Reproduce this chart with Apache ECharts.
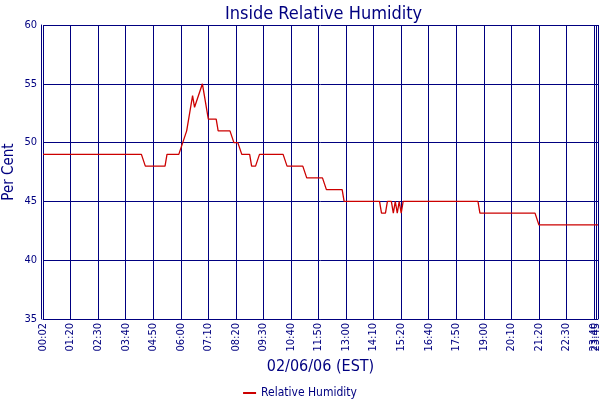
<!DOCTYPE html>
<html>
<head>
<meta charset="utf-8">
<script src="https://cdn.jsdelivr.net/npm/echarts@6/dist/echarts.min.js"></script>
<style>
html,body{margin:0;padding:0;background:#fff;}
#chart{width:600px;height:400px;}
</style>
</head>
<body>
<div id="chart"></div>
<script>
// Tick labels (one every 14 samples, plus the final two samples)
var tickLabels = ['00:02','01:20','02:30','03:40','04:50','06:00','07:10','08:20','09:30','10:40',
  '11:50','13:00','14:10','15:20','16:40','17:50','19:00','20:10','21:20','22:30','23:40'];
var endLabels = ['23:45','23:49'];
var samplesPerTick = 14;

// Relative humidity readings (%)
var humidity = [
  49,49,49,49,49,49,49,49,49,49,49,49,49,49,
  49,49,49,49,49,49,49,49,49,49,49,49,49,49,
  49,49,49,49,49,49,49,49,49,49,49,49,49,49,
  49,49,49,49,49,49,49,49,49,49,48,48,48,48,
  48,48,48,48,48,48,48,49,49,49,49,49,49,49,
  49,50,50,51,52,53,54,53,53,54,54,55,54,54,
  52,52,52,52,52,51,51,51,51,51,51,51,51,50,
  50,50,50,49,49,49,49,49,48,48,48,48,49,49,
  49,49,49,49,49,49,49,49,49,49,49,49,48,48,
  48,48,48,48,48,48,48,48,47,47,47,47,47,47,
  47,47,47,47,46,46,46,46,46,46,46,46,46,45,
  45,45,45,45,45,45,45,45,45,45,45,45,45,45,
  45,45,45,45,44,44,44,45,45,45,44,45,44,45,
  44,45,45,45,45,45,45,45,45,45,45,45,45,45,
  45,45,45,45,45,45,45,45,45,45,45,45,45,45,
  45,45,45,45,45,45,45,45,45,45,45,45,44,44,
  44,44,44,44,44,44,44,44,44,44,44,44,44,44,
  44,44,44,44,44,44,44,44,44,44,44,44,44,44,
  43,43,43,43,43,43,43,43,43,43,43,43,43,43,
  43,43,43,43,43,43,43,43,43,43,43,43,43,43,
  43,43,43
];

var categories = [];
var lastTickIdx = (tickLabels.length - 1) * samplesPerTick;
for (var i = 0; i < humidity.length; i++) {
  if (i % samplesPerTick === 0 && i <= lastTickIdx) categories.push(tickLabels[i / samplesPerTick]);
  else if (i > lastTickIdx) categories.push(endLabels[i - lastTickIdx - 1]);
  else categories.push('');
}

var NAVY = '#000080';
var FONT = '"DejaVu Sans Condensed", "Liberation Sans", sans-serif';
var showIdx = function (idx, val) { return val !== ''; };

var chart = echarts.init(document.getElementById('chart'));
chart.setOption({
  animation: false,
  backgroundColor: '#ffffff',
  textStyle: { fontFamily: FONT },
  title: {
    text: 'Inside Relative Humidity',
    left: 220, top: 0,
    textStyle: { color: NAVY, fontSize: 18, fontWeight: 'normal', fontFamily: FONT }
  },
  legend: {
    data: ['Relative Humidity'],
    left: 'center', top: 382,
    icon: 'rect', itemWidth: 13, itemHeight: 2,
    textStyle: { color: NAVY, fontSize: 12, fontFamily: FONT }
  },
  grid: { left: 43, right: 2, top: 25, bottom: 81, containLabel: false, outerBoundsMode: 'none' },
  xAxis: {
    type: 'category',
    data: categories,
    boundaryGap: false,
    name: '02/06/06 (EST)',
    nameLocation: 'middle',
    nameGap: 40,
    nameMoveOverlap: false,
    nameTextStyle: { color: NAVY, fontSize: 16, fontFamily: FONT },
    axisLine: { show: true, lineStyle: { color: NAVY, width: 1 } },
    axisTick: { show: false },
    axisLabel: {
      interval: showIdx, rotate: 90, margin: 4,
      color: NAVY, fontSize: 11, fontFamily: FONT
    },
    splitLine: { show: true, interval: showIdx, lineStyle: { color: NAVY, width: 1 } }
  },
  yAxis: {
    type: 'value',
    min: 35, max: 60, interval: 5,
    offset: 2,
    name: 'Per Cent',
    nameLocation: 'middle',
    nameGap: 24,
    nameMoveOverlap: false,
    nameTextStyle: { color: NAVY, fontSize: 15, fontFamily: FONT },
    axisLine: { show: true, lineStyle: { color: NAVY, width: 1 } },
    axisTick: { show: false },
    axisLabel: { color: NAVY, fontSize: 11, margin: 4, fontFamily: FONT },
    splitLine: { show: true, lineStyle: { color: NAVY, width: 1 } }
  },
  series: [{
    name: 'Relative Humidity',
    type: 'line',
    data: humidity,
    symbol: 'none',
    color: '#cc0000',
    lineStyle: { color: '#cc0000', width: 1.3 }
  }]
});
</script>
</body>
</html>
